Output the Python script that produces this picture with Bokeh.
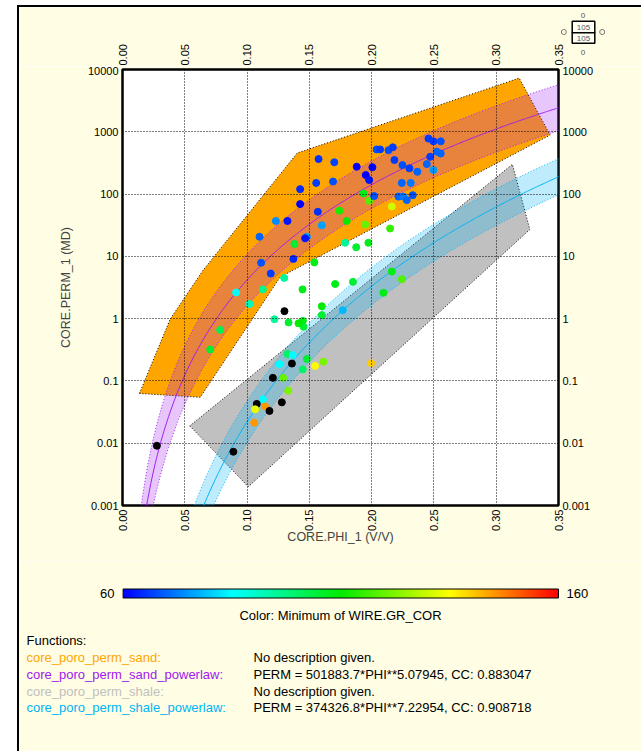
import numpy as np
from bokeh.plotting import figure
from bokeh.models import (Range1d, LogAxis, FixedTicker, LinearColorMapper,
                          CustomJSTickFormatter)
from bokeh.transform import linear_cmap
from bokeh.layouts import column
from bokeh.embed import file_html
from bokeh.resources import INLINE
from bokeh.core.properties import value

# ---------------- data ----------------
x_ticks = [0.00, 0.05, 0.10, 0.15, 0.20, 0.25, 0.30, 0.35]
x_tick_labels = ["0.00", "0.05", "0.10", "0.15", "0.20", "0.25", "0.30", "0.35"]
y_ticks = [0.001, 0.01, 0.1, 1, 10, 100, 1000, 10000]
y_tick_labels = ["0.001", "0.01", "0.1", "1", "10", "100", "1000", "10000"]

core_phi = [0.1574, 0.170, 0.188, 0.2006, 0.1953, 0.198, 0.204, 0.2068, 0.2135, 0.217,
            0.2183, 0.2247, 0.2303, 0.2367, 0.2456, 0.2496, 0.2555, 0.2523, 0.2555, 0.247,
            0.2443, 0.2496, 0.2242, 0.2314, 0.2215, 0.2255, 0.2282, 0.233, 0.1555, 0.169,
            0.1426, 0.1426, 0.1568, 0.1231, 0.1324, 0.110, 0.148, 0.1466, 0.138, 0.1372,
            0.154, 0.1113, 0.119, 0.1298, 0.1445, 0.1127, 0.0912, 0.160, 0.1934, 0.198,
            0.202, 0.1741, 0.180, 0.1948, 0.2162, 0.2148, 0.1787, 0.1876, 0.1974, 0.160,
            0.1707, 0.185, 0.2162, 0.2242, 0.2095, 0.1768, 0.160, 0.1448, 0.1453, 0.148,
            0.1447, 0.1546, 0.1613, 0.1996, 0.102, 0.130, 0.122, 0.1333, 0.1413, 0.0784,
            0.0704, 0.1324, 0.1367, 0.136, 0.126, 0.1207, 0.129, 0.133, 0.1279, 0.1127,
            0.1078, 0.1065, 0.1145, 0.118, 0.1057, 0.089, 0.0276]
core_perm = [365, 324, 275, 270, 202, 168, 521, 521, 507, 563,
             352, 292, 259, 228, 777, 703, 703, 480, 448, 397,
             303, 243, 151, 151, 91, 91, 80, 96, 151, 159,
             120, 69, 52, 37, 37, 20.6, 20.6, 19.5, 15.8, 9.1,
             8.0, 7.9, 5.3, 4.5, 2.95, 2.95, 2.63, 31.5, 102, 78,
             93, 54, 37, 32.5, 63, 28, 16.5, 14, 16.5, 1.58,
             3.6, 3.9, 5.7, 4.3, 2.6, 1.37, 1.14, 0.92, 0.74, 0.225,
             0.153, 0.174, 0.204, 0.192, 1.72, 1.32, 0.98, 0.87, 0.84, 0.66,
             0.32, 0.27, 0.26, 0.19, 0.186, 0.112, 0.112, 0.0697, 0.0453, 0.0507,
             0.0427, 0.035, 0.039, 0.033, 0.0214, 0.0073, 0.0091]
gr_min = [65, 67, 60, 60, 60, 62, 68, 66, 68, 66,
          66, 68, 66, 70, 66, 66, 68, 70, 70, 66,
          70, 75, 70, 72, 70, 72, 70, 68, 66, 68,
          64, 60, 65, 74, 62, 70, 76, 62, 105, 64,
          108, 68, 66, 95, 108, 96, 85, 76, 108, 118,
          68, 112, 110, 120, 130, 115, 95, 105, 108, 110,
          108, 105, 108, 118, 108, 78, 105, 108, 105, 105,
          100, 135, 122, 140, 92, np.nan, 95, 105, 110, 102,
          105, 100, 85, np.nan, 85, np.nan, 120, 122, np.nan, 85,
          np.nan, 133, 145, np.nan, 145, np.nan, np.nan]

sand_poly_phi = [0.0136, 0.0624, 0.1266, 0.3433, 0.3184, 0.1402, 0.0648, 0.0383]
sand_poly_perm = [0.063, 0.0546, 4.66, 885, 7280, 455, 6.03, 0.985]
shale_poly_phi = [0.054, 0.101, 0.327, 0.313]
shale_poly_perm = [0.019, 0.002, 27, 300]

sand_coef, sand_exp = 501883.7, 5.07945
shale_coef, shale_exp = 374326.8, 7.22954
band_phi_knots = [0.02, 0.05, 0.10, 0.20, 0.35]
sand_band_decades = [0.55, 0.47, 0.41, 0.38, 0.37]
shale_band_decades = [0.45, 0.40, 0.33, 0.30, 0.29]

# ---------------- style ----------------
BG = "#FFFDE3"
FONT = "Liberation Sans"
ORANGE = "#FFA500"
PURPLE = "#A020F0"
GREY = "#C0C0C0"
CYAN = "#00B4F5"

def ramp(stops, n=256):
    out = []
    pos = [s[0] for s in stops]
    for i in range(n):
        tt = i / (n - 1)
        rgb = [int(round(np.interp(tt, pos, [s[1][k] for s in stops]))) for k in range(3)]
        out.append("#%02x%02x%02x" % tuple(rgb))
    return out

palette = ramp([(0.0, (0, 0, 255)), (0.25, (0, 255, 255)), (0.5, (0, 235, 0)),
                (0.75, (255, 255, 0)), (1.0, (255, 0, 0))])

FMT_CODE = """
for (let i = 0; i < tv.length; i++) {
    const a = tv[i];
    if (Math.abs(tick - a) <= 1e-9 * Math.max(1, Math.abs(a)) ||
        (a > 0 && tick > 0 && Math.abs(Math.log10(tick) - Math.log10(a)) < 1e-6))
        return tl[i];
}
return "";
"""

# page geometry: panel starts at page (19, 7); plot frame spans page x 122..558, y 69..505
W = 622
H_TOP, H_MAIN, H_BOT = 59, 494, 191
FRAME_L, FRAME_W = 103, 436

# ---------------- top strip (top tick labels + indicator) ----------------
r = figure(width=W, height=H_TOP, x_range=Range1d(19, 641), y_range=Range1d(66, 7),
           output_backend="svg", toolbar_location=None, min_border=0,
           x_axis_location=None, y_axis_location=None,
           background_fill_color=BG, border_fill_color=BG)
r.frame_align = False
r.outline_line_color = None
r.grid.visible = False
px_per_phi = FRAME_W / 0.35
r.extra_x_ranges = {"phi": Range1d((19 - 122) / px_per_phi, (641 - 122) / px_per_phi)}
r.text(x=x_ticks, y=[65] * len(x_ticks), text=x_tick_labels, x_range_name="phi",
       angle=np.pi / 2, text_font=value(FONT), text_font_size="11px", text_color="black",
       text_align="left", text_baseline="middle")
# indicator box
r.quad(left=[571.7, 571.7], right=[594.3, 594.3], top=[20.7, 32.3], bottom=[32.3, 42.7],
       fill_color="#FFFFF4", line_color="black", line_width=1.5)
r.text(x=[583, 583], y=[26.6, 37.6], text=["105", "105"], text_font=value(FONT),
       text_font_size="8px", text_color="#4A5A70", text_align="center",
       text_baseline="middle")
r.text(x=[582.5, 582.5], y=[15, 51.5], text=["0", "0"], text_font=value(FONT),
       text_font_size="8px", text_color="#555555", text_align="center",
       text_baseline="middle")
r.scatter(x=[563.3, 601.7], y=[31.5, 31.5], marker="circle", size=5, fill_color=None,
          line_color="#777777", line_width=1)

# ---------------- main plot ----------------
p = figure(width=W, height=H_MAIN, x_range=Range1d(0, 0.35), y_range=Range1d(0.001, 10000),
           y_axis_type="log", output_backend="svg", toolbar_location=None,
           min_border_left=FRAME_L, min_border_top=3, min_border_right=83, min_border_bottom=55,
           background_fill_color="white", border_fill_color=BG)
p.frame_align = False
p.outline_line_color = "black"
p.outline_line_width = 2.5

xfmt = CustomJSTickFormatter(args=dict(tv=x_ticks, tl=x_tick_labels), code=FMT_CODE)
yfmt = CustomJSTickFormatter(args=dict(tv=y_ticks, tl=y_tick_labels), code=FMT_CODE)

p.add_layout(LogAxis(), "right")

for ax in p.xaxis:
    ax.ticker = FixedTicker(ticks=x_ticks)
    ax.formatter = xfmt
    ax.major_label_orientation = np.pi / 2
for ax in p.yaxis:
    ax.ticker = FixedTicker(ticks=y_ticks)
    ax.formatter = yfmt
for ax in p.axis:
    ax.axis_line_color = None
    ax.major_tick_line_color = None
    ax.minor_tick_line_color = None
    ax.major_tick_out = 0
    ax.major_tick_in = 0
    ax.minor_tick_out = 0
    ax.minor_tick_in = 0
    ax.major_label_text_font = FONT
    ax.major_label_text_font_size = "11px"
    ax.major_label_text_color = "black"
    ax.major_label_standoff = 4
    ax.axis_label_text_font = FONT
    ax.axis_label_text_font_size = "12.5px"
    ax.axis_label_text_font_style = "normal"

p.below[0].axis_label = "CORE.PHI_1 (V/V)"
p.below[0].axis_label_standoff = -4
p.left[0].axis_label = "CORE.PERM_1 (MD)"
p.left[0].axis_label_standoff = 12

p.xgrid.ticker = FixedTicker(ticks=x_ticks)
p.ygrid.ticker = FixedTicker(ticks=y_ticks)
for g in (p.xgrid[0], p.ygrid[0]):
    g.grid_line_color = "black"
    g.grid_line_dash = "1 2"
    g.grid_line_width = 1
    g.level = "overlay"

# polygons
p.patch(sand_poly_phi, sand_poly_perm, fill_color=ORANGE, line_color="black",
        line_dash="1 2", line_width=1)
p.patch(shale_poly_phi, shale_poly_perm, fill_color=GREY, line_color="black",
        line_dash="1 2", line_width=1)

# power-law functions with their bands
phi_line = np.linspace(0.004, 0.36, 400)
lp = np.log10(phi_line)
lk = np.log10(band_phi_knots)
for coef, ex, band, col in ((sand_coef, sand_exp, sand_band_decades, PURPLE),
                            (shale_coef, shale_exp, shale_band_decades, CYAN)):
    k = coef * phi_line ** ex
    hw = np.interp(lp, lk, band)
    up = k * 10 ** hw
    lo = k / 10 ** hw
    p.patch(np.concatenate([phi_line, phi_line[::-1]]), np.concatenate([up, lo[::-1]]),
            fill_color=col, fill_alpha=0.25, line_color=None)
    p.line(phi_line, up, line_color=col, line_dash="1 2", line_width=1)
    p.line(phi_line, lo, line_color=col, line_dash="1 2", line_width=1)
    p.line(phi_line, k, line_color=col, line_width=1)

# core points
src = dict(phi=core_phi, perm=core_perm, gr=gr_min)
cmap = linear_cmap("gr", palette, 60, 160, nan_color="black")
p.scatter("phi", "perm", source=src, marker="circle", size=7,
          fill_color=cmap, line_color=cmap)

# ---------------- bottom panel ----------------
q = figure(width=W, height=H_BOT, x_range=Range1d(19, 641), y_range=Range1d(751, 560),
           output_backend="svg", toolbar_location=None, min_border=0,
           x_axis_location=None, y_axis_location=None,
           background_fill_color=BG, border_fill_color=BG)
q.frame_align = False
q.outline_line_color = None
q.grid.visible = False

mapper = LinearColorMapper(palette=palette, low=60, high=160)
q.image(image=[np.linspace(60, 160, 256).reshape(1, -1)], x=122.6, y=588.5, dw=435.4, dh=9,
        color_mapper=mapper)
q.quad(left=122.6, right=558, top=588.5, bottom=597.5, fill_color=None, line_color="black",
       line_width=1)

def t(x, y, s, color="black", align="left", size="13px"):
    q.text(x=[x], y=[y], text=[s], text_font=value(FONT), text_font_size=size,
           text_color=color, text_align=align, text_baseline="middle")

t(114, 593, "60", align="right")
t(566, 593, "160")
t(340, 615, "Color: Minimum of WIRE.GR_COR", align="center")
t(26, 640, "Functions:")
rows = [("core_poro_perm_sand:", ORANGE, "No description given."),
        ("core_poro_perm_sand_powerlaw:", PURPLE, "PERM = 501883.7*PHI**5.07945, CC: 0.883047"),
        ("core_poro_perm_shale:", GREY, "No description given."),
        ("core_poro_perm_shale_powerlaw:", CYAN, "PERM = 374326.8*PHI**7.22954, CC: 0.908718")]
for i, (name, col, desc) in enumerate(rows):
    yy = 657.3 + i * 16.7
    t(26, yy, name, color=col)
    t(253, yy, desc)

layout = column(r, p, q, spacing=0, margin=(5, 0, 0, 17),
                styles={"border-left": "2px solid black", "border-top": "2px solid black"})

open("out.html", "w").write(file_html(layout, INLINE))
